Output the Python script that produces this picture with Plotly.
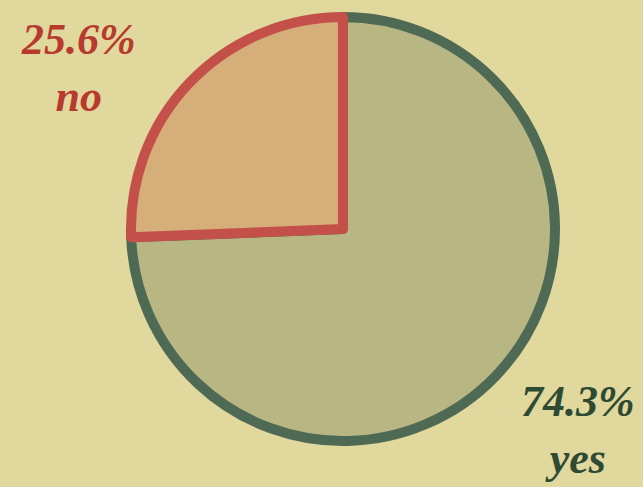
import plotly.graph_objects as go

# Survey answers
labels = ["yes", "no"]
shares = [74.3, 25.6]

fill_colors = ["#B8B783", "#D6AE7A"]
edge_colors = ["#4E6A54", "#C4504A"]
text_colors = ["#2F4A33", "#B83A2E"]

W, H = 643, 487
CX, CY, R = 343, 229, 212
M_T = CY - R
M_B = H - (CY + R)
PLOT_H = H - M_T - M_B


def px_x(x):
    return x / W


def px_y(y):
    return (H - M_B - y) / PLOT_H


fig = go.Figure(
    go.Pie(
        labels=labels,
        values=shares,
        sort=False,
        direction="clockwise",
        rotation=0,
        textinfo="none",
        hoverinfo="label+percent",
        marker=dict(colors=fill_colors, line=dict(color=edge_colors, width=10)),
        domain=dict(x=[px_x(CX - R), px_x(CX + R)], y=[0, 1]),
        showlegend=False,
    )
)

# Label positions (pixel centres) for each slice
label_pos = {"yes": (578, 430), "no": (78, 68)}

for lab, val, col in zip(labels, shares, text_colors):
    x, y = label_pos[lab]
    fig.add_annotation(
        x=px_x(x),
        y=px_y(y),
        xref="paper",
        yref="paper",
        text=f"<i><b>{val}%</b></i><br><i><b>{lab}</b></i>",
        showarrow=False,
        font=dict(family="Liberation Serif", size=44, color=col),
        align="center",
        xanchor="center",
        yanchor="middle",
    )

fig.update_layout(
    width=W,
    height=H,
    margin=dict(l=0, r=0, t=M_T, b=M_B),
    paper_bgcolor="#E0D89C",
    plot_bgcolor="#E0D89C",
)

fig.write_html("out.html")
